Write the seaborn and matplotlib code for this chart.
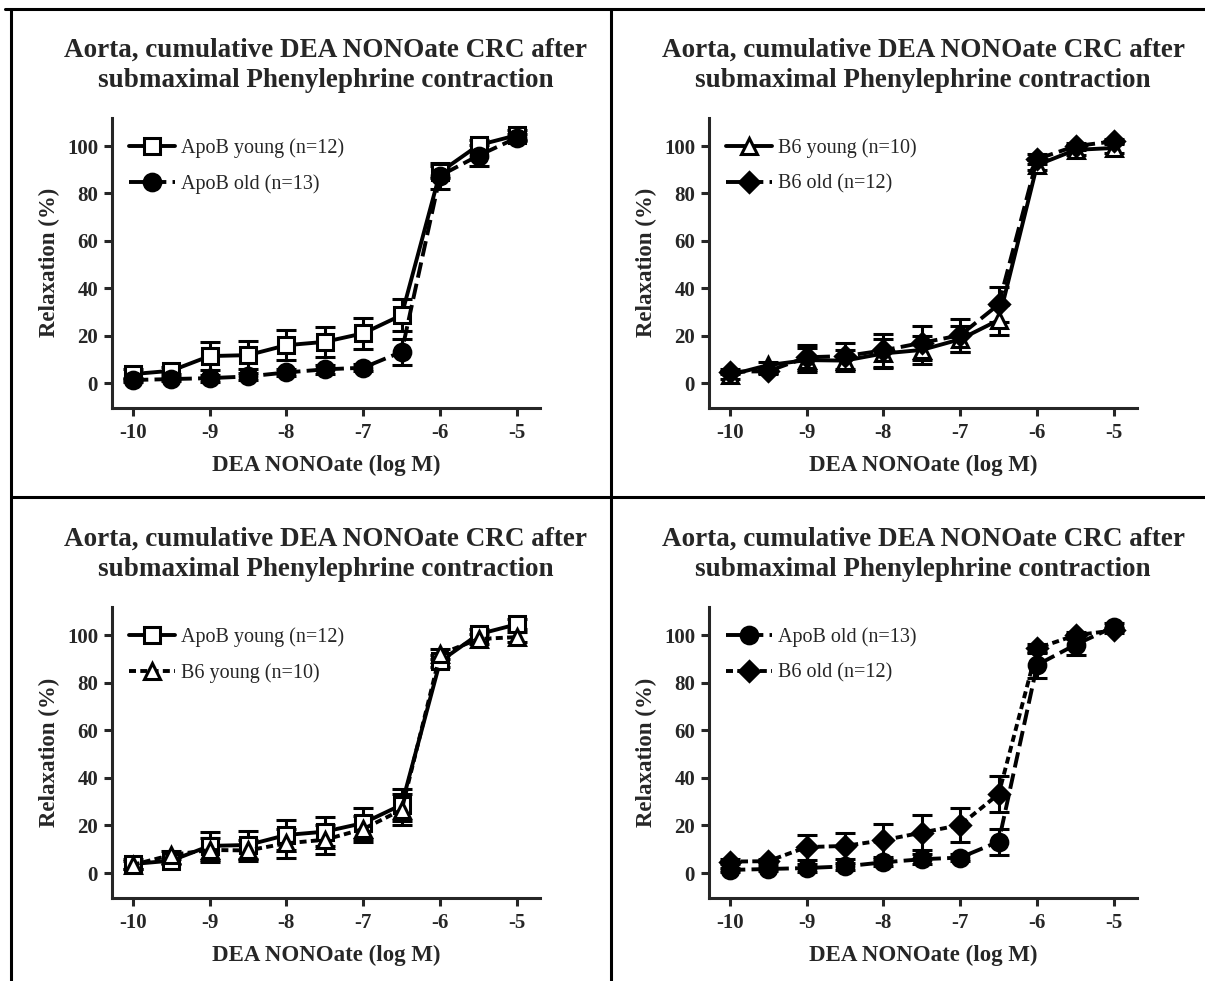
import numpy as np
import pandas as pd
import matplotlib
matplotlib.use('Agg')
import matplotlib.pyplot as plt
from matplotlib.lines import Line2D
import seaborn as sns

# データ（読み取り値）
log_conc = [-10, -9.5, -9, -8.5, -8, -7.5, -7, -6.5, -6, -5.5, -5]

apob_young = [3.8, 5.2, 11.4, 11.8, 16.0, 17.4, 21.0, 28.7, 89.0, 100.4, 104.6]
apob_young_sem = [2.0, 1.5, 6.0, 5.8, 6.3, 6.2, 6.5, 6.7, 2.5, 2.0, 2.0]

apob_old = [1.3, 1.7, 2.1, 2.8, 4.5, 5.8, 6.5, 13.2, 87.5, 96.0, 103.5]
apob_old_sem = [1.0, 1.0, 1.5, 1.5, 1.5, 2.0, 1.5, 5.5, 5.5, 4.5, 1.5]

b6_young = [3.4, 7.6, 9.7, 9.5, 12.5, 14.0, 18.5, 26.6, 92.0, 98.4, 99.2]
b6_young_sem = [1.5, 1.5, 5.0, 4.5, 6.0, 6.0, 5.5, 6.5, 2.0, 2.0, 2.0]

b6_old = [4.8, 5.0, 10.9, 11.4, 13.8, 17.0, 20.2, 33.2, 94.5, 100.0, 102.0]
b6_old_sem = [1.0, 1.0, 5.3, 5.6, 7.0, 7.3, 7.0, 7.4, 2.0, 1.5, 1.0]

title = 'Aorta, cumulative DEA NONOate CRC after\nsubmaximal Phenylephrine contraction'
xlabel = 'DEA NONOate (log M)'
ylabel = 'Relaxation (%)'

# スタイル
sns.set_style('ticks')
plt.rcParams['font.family'] = ['Liberation Serif', 'DejaVu Serif']

LONG = (0, (4, 1.6))
SHORT = (0, (1.8, 1.1))

series = {
    'ApoB young (n=12)': (apob_young, apob_young_sem, 's', 'white'),
    'ApoB old (n=13)': (apob_old, apob_old_sem, 'o', 'black'),
    'B6 young (n=10)': (b6_young, b6_young_sem, '^', 'white'),
    'B6 old (n=12)': (b6_old, b6_old_sem, 'D', 'black'),
}

panels = [
    [('ApoB young (n=12)', '-'), ('ApoB old (n=13)', LONG)],
    [('B6 young (n=10)', '-'), ('B6 old (n=12)', LONG)],
    [('ApoB young (n=12)', '-'), ('B6 young (n=10)', SHORT)],
    [('ApoB old (n=13)', LONG), ('B6 old (n=12)', SHORT)],
]

W, H = 1205, 981
fig = plt.figure(figsize=(W / 100, H / 100), dpi=100)

positions = [
    [112 / W, 0.5841, 428 / W, 0.296],
    [709 / W, 0.5841, 428 / W, 0.296],
    [112 / W, 0.0846, 428 / W, 0.297],
    [709 / W, 0.0846, 428 / W, 0.297],
]

for pos, panel in zip(positions, panels):
    ax = fig.add_axes(pos)
    for name, ls in panel:
        vals, sem, mk, fc = series[name]
        df = pd.DataFrame({'x': log_conc, 'y': vals})
        ax.errorbar(log_conc, vals, yerr=sem, fmt='none', ecolor='black',
                    elinewidth=2.2, capsize=7, capthick=2.2, zorder=2)
        ms = 12 if mk != 'D' else 10
        sns.lineplot(data=df, x='x', y='y', ax=ax, color='black', lw=2.8,
                     linestyle=ls, marker=mk, markersize=ms, markerfacecolor=fc,
                     markeredgecolor='black', markeredgewidth=2.2,
                     label=name, zorder=3)
    ax.set_xlim(-10.27, -4.70)
    ax.set_ylim(-10.5, 112)
    ax.set_xticks([-10, -9, -8, -7, -6, -5])
    ax.set_yticks([0, 20, 40, 60, 80, 100])
    ax.set_xticklabels(['-10', '-9', '-8', '-7', '-6', '-5'])
    for lab in ax.get_xticklabels() + ax.get_yticklabels():
        lab.set_fontweight('bold')
        lab.set_fontsize(15)
    ax.tick_params(length=6, width=2.2, pad=4)
    ax.tick_params(axis='x', pad=5)
    for s in ['left', 'bottom']:
        ax.spines[s].set_linewidth(2.2)
    sns.despine(ax=ax)
    ax.set_xlabel(xlabel, fontsize=16.5, fontweight='bold', labelpad=8)
    ax.set_ylabel(ylabel, fontsize=16.5, fontweight='bold', labelpad=5)
    ax.text(0.5, 1.18, title, transform=ax.transAxes, ha='center', va='center',
            fontsize=19.5, fontweight='bold', linespacing=1.25)
    ax.legend(loc='upper left', frameon=False, fontsize=14.5, handlelength=2.3,
              handletextpad=0.3, labelspacing=0.8, borderaxespad=0,
              bbox_to_anchor=(0.02, 0.956))

# 枠線
lw = 2.2
fig.add_artist(Line2D([5 / W, 1], [1 - 9 / H, 1 - 9 / H], color='black', lw=lw))
fig.add_artist(Line2D([11 / W, 11 / W], [0, 1 - 9 / H], color='black', lw=lw))
fig.add_artist(Line2D([611 / W, 611 / W], [0, 1 - 9 / H], color='black', lw=lw))
fig.add_artist(Line2D([11 / W, 1], [1 - 497 / H, 1 - 497 / H], color='black', lw=lw))

plt.savefig('out.png', dpi=100)
